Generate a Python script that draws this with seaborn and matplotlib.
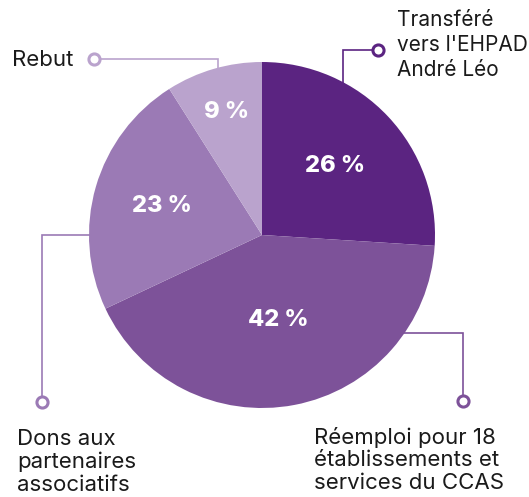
import numpy as np
import matplotlib.pyplot as plt
import seaborn as sns

# share of destinations (clockwise from top)
labels = ["Transféré\nvers l'EHPAD\nAndré Léo",
          "Réemploi pour 18\nétablissements et\nservices du CCAS",
          "Dons aux\npartenaires\nassociatifs",
          "Rebut"]
shares = [26, 42, 23, 9]
colors = ["#5b2481", "#7d5299", "#9b7ab5", "#baa3cd"]

W, H = 529, 497


def px(x, y):
    # pixel (top-left origin) -> data coords
    return x, H - y


sns.set_theme(style="white")
plt.rcParams["font.family"] = ["Inter", "DejaVu Sans"]

fig = plt.figure(figsize=(W / 100, H / 100), dpi=100)
ax = fig.add_axes([0, 0, 1, 1])

cx, cy = px(262, 235)
radius = 173
wedges, _ = ax.pie(shares, colors=colors, startangle=90, counterclock=False,
                   center=(cx, cy), radius=radius, frame=True,
                   wedgeprops=dict(linewidth=0, zorder=2))
ax.set_xlim(0, W)
ax.set_ylim(0, H)
ax.set_aspect("equal")
ax.axis("off")

# percentage labels inside slices
label_r = [0.58, 0.50, 0.60, 0.74]
for w, s, r in zip(wedges, shares, label_r):
    ang = np.deg2rad((w.theta1 + w.theta2) / 2)
    ax.text(cx + r * radius * np.cos(ang), cy + r * radius * np.sin(ang),
            f"{s} %", color="white", fontsize=17, fontweight="heavy",
            ha="center", va="center", zorder=3)

# leader lines: polyline points in pixels, marker at first point
leaders = [
    [(378, 50), (343, 50), (343, 90)],
    [(463, 401), (463, 333), (400, 333)],
    [(42, 402), (42, 235), (95, 235)],
    [(94, 59), (218, 59), (218, 72)],
]
for pts, c in zip(leaders, colors):
    xs, ys = zip(*[px(*p) for p in pts])
    ax.plot(xs, ys, color=c, lw=1.2, zorder=1, solid_joinstyle="miter")
    ax.plot(xs[0], ys[0], marker="o", ms=8, mfc="white", mec=c, mew=2.2,
            zorder=4)

# category texts: (x, y) in pixels, font size, line spacing
text_pos = [(397, 45, 15, 1.3), (314, 460, 16, 1.15),
            (17, 462, 16, 1.15), (12, 60, 16, 1.15)]
for (x, y, fs, ls), lab in zip(text_pos, labels):
    x, y = px(x, y)
    ax.text(x, y, lab, fontsize=fs, color="#1a1a1a", ha="left", va="center",
            linespacing=ls)

fig.savefig("out.png", dpi=100)
